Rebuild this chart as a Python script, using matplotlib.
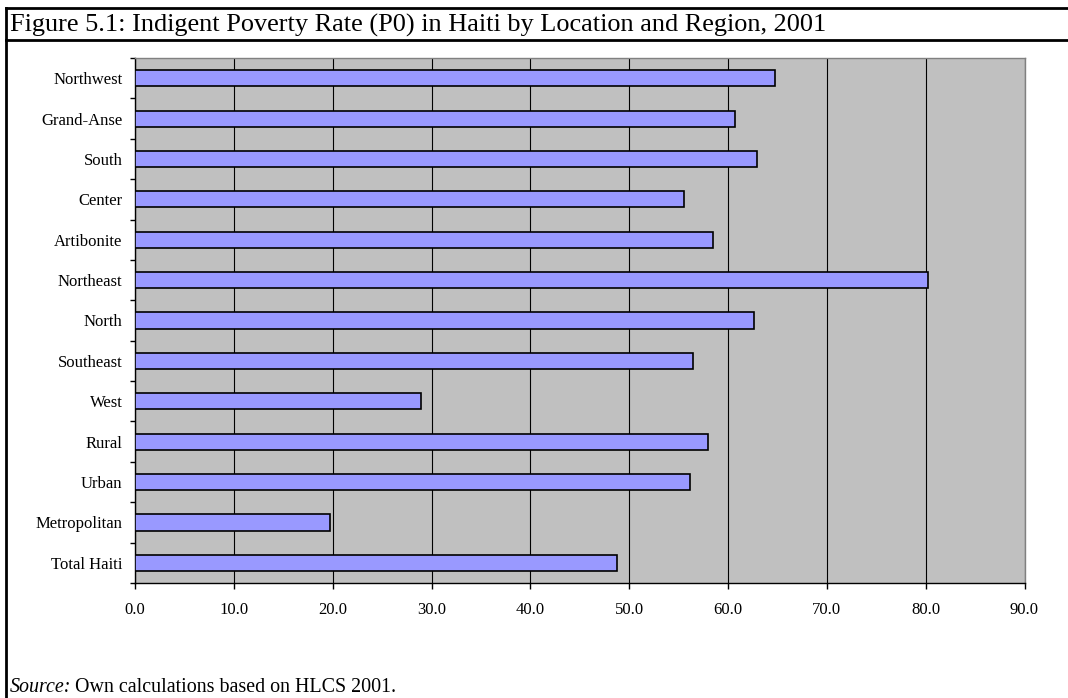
import numpy as np
import matplotlib.pyplot as plt
from matplotlib.lines import Line2D

# data (top to bottom as in the figure)
regions = ['Northwest', 'Grand-Anse', 'South', 'Center', 'Artibonite', 'Northeast',
           'North', 'Southeast', 'West', 'Rural', 'Urban', 'Metropolitan', 'Total Haiti']
p0 = [64.8, 60.7, 62.9, 55.5, 58.5, 80.2, 62.6, 56.5, 28.9, 58.0, 56.2, 19.7, 48.8]
xticks = np.arange(0, 91, 10)

plt.rcParams['font.family'] = ['Liberation Serif', 'DejaVu Serif']

W, H = 1068, 698
fig = plt.figure(figsize=(W / 100, H / 100), dpi=100)
ax = fig.add_axes([135 / W, 1 - 583 / H, (1024.5 - 135) / W, (583 - 58) / H])

n = len(regions)
ypos = np.arange(n)[::-1]
ax.barh(ypos, p0, height=0.4, color='#9999FF', edgecolor='black', linewidth=1.2, zorder=3)

ax.set_facecolor('#C0C0C0')
ax.set_xlim(0, 90)
ax.set_ylim(-0.5, n - 0.5)
ax.set_xticks(xticks)
ax.set_xticklabels(['%.1f' % v for v in xticks], fontsize=12)
ax.set_yticks(ypos)
ax.set_yticklabels(regions, fontsize=12)
ax.set_yticks(np.arange(n + 1) - 0.5, minor=True)
ax.tick_params(axis='y', which='major', length=0, pad=9)
ax.tick_params(axis='y', which='minor', length=3.6, width=1, direction='out')
ax.tick_params(axis='x', length=4.5, width=1, direction='out', pad=9.5)
ax.grid(axis='x', color='black', linewidth=0.8, zorder=1)
ax.set_axisbelow(True)

for s in ['top', 'right']:
    ax.spines[s].set_color('#808080')
    ax.spines[s].set_linewidth(1)
for s in ['left', 'bottom']:
    ax.spines[s].set_color('black')
    ax.spines[s].set_linewidth(1)

# frame around the figure
fig.add_artist(Line2D([6 / W, 1], [1 - 8 / H, 1 - 8 / H], color='black', linewidth=2))
fig.add_artist(Line2D([6 / W, 1], [1 - 40 / H, 1 - 40 / H], color='black', linewidth=2))
fig.add_artist(Line2D([6 / W, 6 / W], [0, 1 - 8 / H], color='black', linewidth=2))

fig.text(10 / W, 1 - 25 / H,
         'Figure 5.1: Indigent Poverty Rate (P0) in Haiti by Location and Region, 2001',
         fontsize=18.9, va='center', ha='left')

src = fig.text(10 / W, 1 - 692 / H, 'Source:', fontsize=14.4, style='italic',
               va='baseline', ha='left')
renderer = fig.canvas.get_renderer()
bb = src.get_window_extent(renderer)
fig.text((bb.x1 + 4) / W, 1 - 692 / H, 'Own calculations based on HLCS 2001.',
         fontsize=14.4, va='baseline', ha='left')

fig.savefig('out.png', dpi=100)
